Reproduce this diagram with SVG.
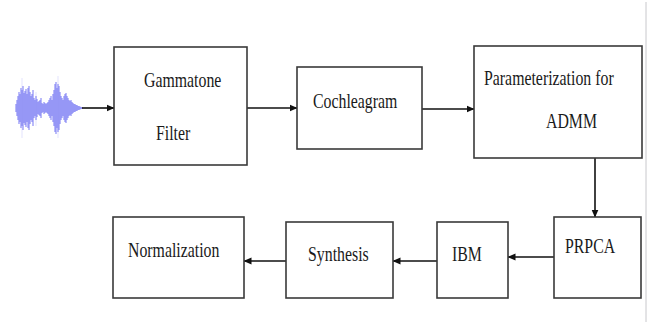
<svg xmlns="http://www.w3.org/2000/svg" width="652" height="324" viewBox="0 0 652 324">
<style>
.box{fill:#fff;stroke:#3a3a3a;stroke-width:1.6}
.lbl{font-family:'Liberation Serif','Times New Roman',Tinos,'DejaVu Serif',serif;font-size:22px;fill:#1a1a1a}
.con{stroke:#111;stroke-width:1.6;fill:none;marker-end:url(#ah)}
</style>
<defs>
<marker id="ah" viewBox="0 0 8 8" refX="7.5" refY="4" markerWidth="8" markerHeight="8" markerUnits="userSpaceOnUse" orient="auto">
<path d="M0,0.5 L8,4 L0,7.5 Z" fill="#111"/>
</marker>
<filter id="bl" x="-10%" y="-10%" width="120%" height="120%"><feGaussianBlur stdDeviation="0.6"/></filter>
</defs>
<rect width="652" height="324" fill="#fff"/>
<line x1="646" y1="2" x2="646" y2="322" stroke="#c8c8cc" stroke-width="1"/>
<g id="wave" filter="url(#bl)" stroke="#8b8cf6" stroke-width="1.3" opacity="0.9">
<path d="M16,104v8M17,100v16M18,96v24M19,92v32M20,94v28M21,88v40M22,90v36M23,86v44M24,93v30M25,91v34M26,89v38M27,94v28M28,88v40M29,86v44M30,92v32M31,96v24M32,94v28M33,90v36M34,98v20M35,100v16M36,96v24M37,99v18M38,102v12M39,101v14M40,100v16M41,98v20M42,103v10M43,104v8M44,102v12M45,103v10M46,104v8M47,103v10M48,102v12M49,100v16M50,98v20M51,96v24M52,100v16M53,94v28M54,90v36M55,84v48M56,82v52M57,88v40M58,84v48M59,86v44M60,92v32M61,96v24M62,98v20M63,100v16M64,96v24M65,94v28M66,93v30M67,96v24M68,98v20M69,100v16M70,101v14M71,100v16M72,102v12M73,103v10M74,104v8M75,104v8M76,105v6M77,105v6M78,106v4M79,106v4M80,106.5v3M81,107v2M82,107v2"/>
<path d="M22,78v60M58,76v62M36,92v34" stroke-width="0.8" opacity="0.35"/>
</g>
<g id="connectors">
<line class="con" x1="82" y1="108" x2="114" y2="108"/>
<line class="con" x1="247" y1="108" x2="297" y2="108"/>
<line class="con" x1="422" y1="109" x2="474" y2="109"/>
<line class="con" x1="595" y1="158" x2="595" y2="217"/>
<line class="con" x1="554" y1="257" x2="508" y2="257"/>
<line class="con" x1="437" y1="261" x2="393" y2="261"/>
<line class="con" x1="286" y1="261" x2="244" y2="261"/>
</g>
<g id="gammatone">
<rect class="box" x="114" y="47" width="133" height="118"/>
<text class="lbl" transform="translate(144,87) scale(0.72,1)">Gammatone</text>
<text class="lbl" transform="translate(156,140) scale(0.72,1)">Filter</text>
</g>
<g id="cochleagram">
<rect class="box" x="297" y="67" width="125" height="82"/>
<text class="lbl" transform="translate(313,108) scale(0.72,1)">Cochleagram</text>
</g>
<g id="parameterization">
<rect class="box" x="474" y="46" width="168" height="112"/>
<text class="lbl" transform="translate(484,85) scale(0.72,1)">Parameterization for</text>
<text class="lbl" transform="translate(546,128) scale(0.72,1)">ADMM</text>
</g>
<g id="prpca">
<rect class="box" x="554" y="217" width="87" height="81"/>
<text class="lbl" transform="translate(565,253) scale(0.72,1)">PRPCA</text>
</g>
<g id="ibm">
<rect class="box" x="437" y="222" width="71" height="76"/>
<text class="lbl" transform="translate(452,261) scale(0.72,1)">IBM</text>
</g>
<g id="synthesis">
<rect class="box" x="286" y="222" width="107" height="76"/>
<text class="lbl" transform="translate(308,261) scale(0.72,1)">Synthesis</text>
</g>
<g id="normalization">
<rect class="box" x="113" y="217" width="131" height="81"/>
<text class="lbl" transform="translate(128,257) scale(0.72,1)">Normalization</text>
</g>
</svg>
